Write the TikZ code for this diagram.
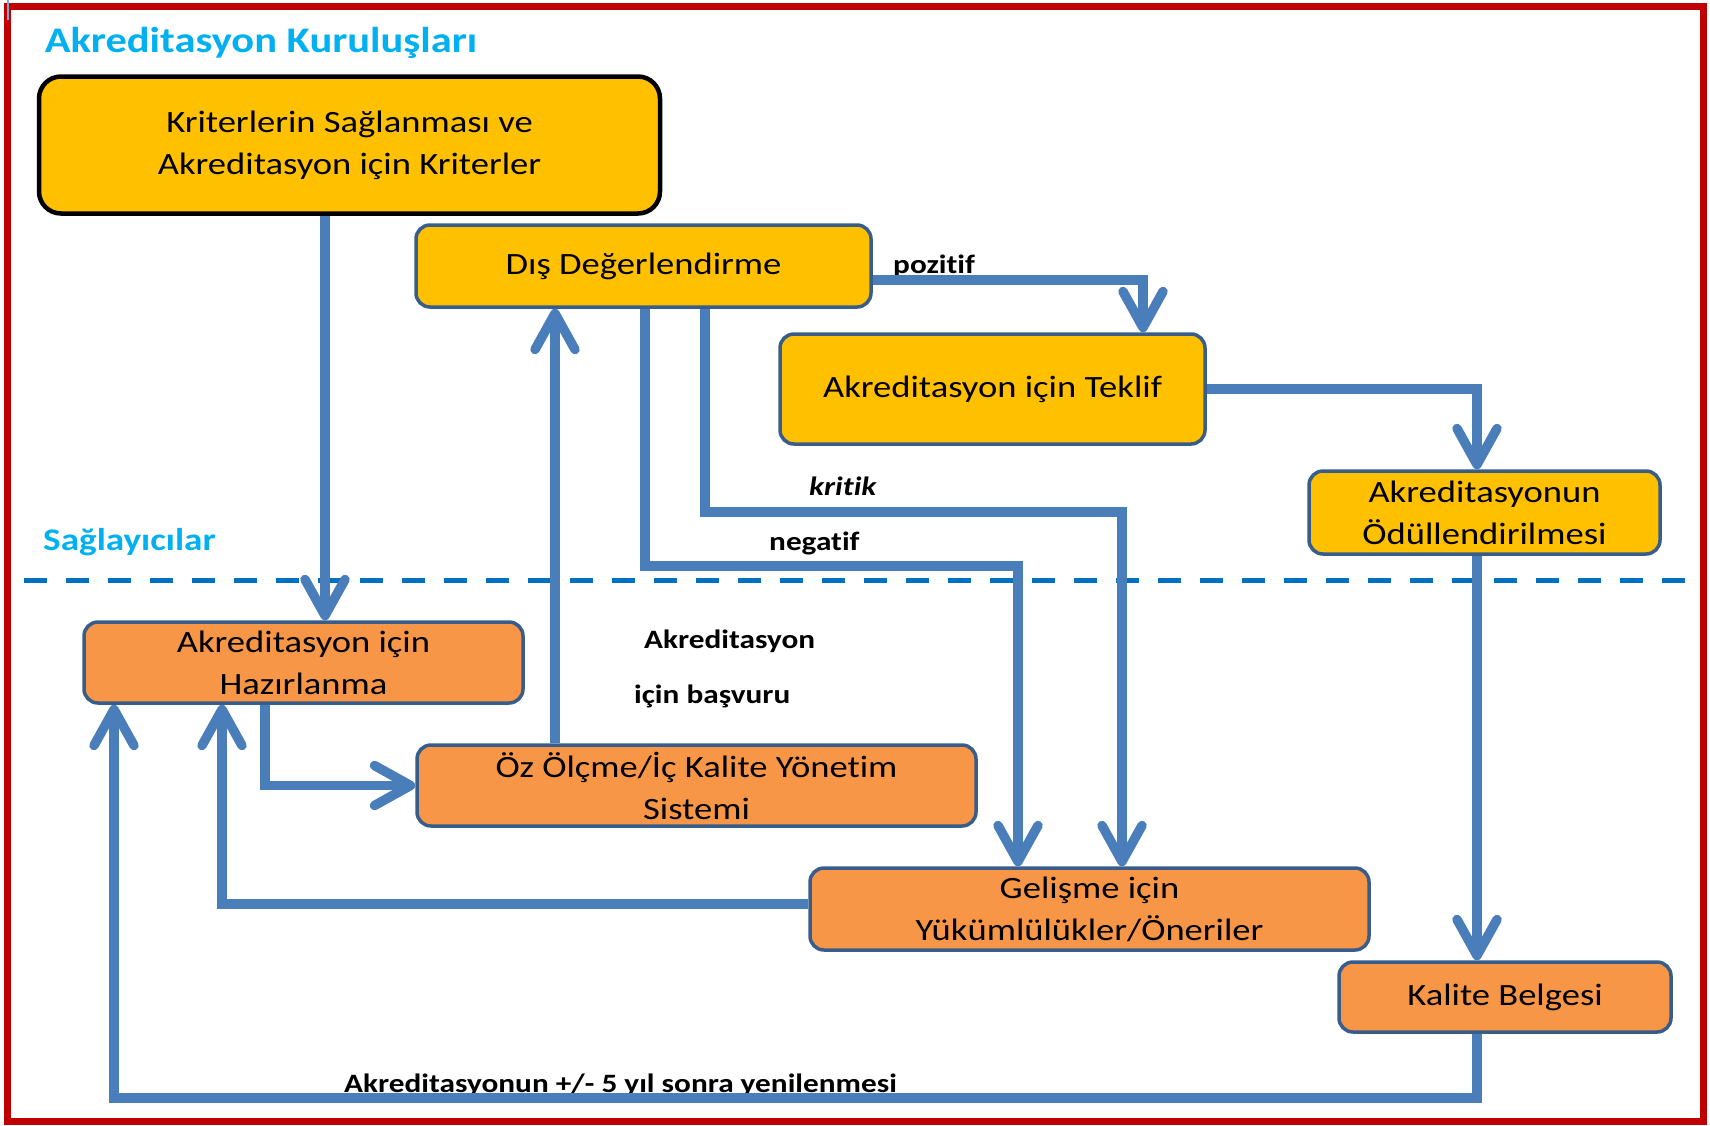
\documentclass[tikz,border=0pt]{standalone}
\usepackage{fontspec}
\setmainfont{Carlito}[FakeStretch=1.18, Ligatures={NoCommon,NoContextual}]
\usetikzlibrary{arrows.meta}
\definecolor{yel}{HTML}{FFC000}
\definecolor{org}{HTML}{F79646}
\definecolor{bord}{HTML}{385D8A}
\definecolor{linec}{HTML}{4A7EBB}
\definecolor{redb}{HTML}{C00000}
\definecolor{cyanT}{HTML}{00B0F0}
\definecolor{dashc}{HTML}{0070C0}
\tikzset{
  boxbase/.style={draw=bord, line width=3.5pt, rounded corners=14pt, align=center, inner sep=0pt,
    font=\fontsize{31}{42}\selectfont},
  ybox/.style={boxbase, fill=yel},
  obox/.style={boxbase, fill=org},
  conn/.style={draw=linec, line width=9.5pt, -{Straight Barb[length=36pt,width=40pt,round]}},
  lbl/.style={anchor=base west, inner sep=0pt, font=\fontsize{26.5}{30}\selectfont\bfseries},
  head/.style={anchor=base west, inner sep=0pt, text=cyanT},
}
\begin{document}
\begin{tikzpicture}[x=1pt,y=-1pt]
\useasboundingbox (0,0) rectangle (1710,1125);
% frame
\draw[redb, line width=7pt] (7.5,6.5) rectangle (1703,1121);
\draw[linec!70, line width=1.5pt] (8,0) -- (8,20);
% headings
\node[head, font=\fontsize{36}{40}\selectfont\bfseries] (t1) at (44.6,52) {Akreditasyon Kuruluşları};
\node[head, font=\fontsize{31.5}{36}\selectfont\bfseries] (t2) at (43,550) {Sağlayıcılar};
% dashed separator
\draw[dashc, line width=5pt, dash pattern=on 23pt off 19pt] (24,580) -- (1692,580);
% boxes
\node[ybox, draw=black, line width=4.5pt, rounded corners=22pt, minimum width=621pt, minimum height=137pt] (A) at (349.5,145) {Kriterlerin Sağlanması ve\\Akreditasyon için Kriterler};
\node[ybox, minimum width=455pt, minimum height=82pt] (B) at (643.5,266) {Dış Değerlendirme};
\node[ybox, minimum width=425pt, minimum height=110pt] (C) at (992.5,389) {Akreditasyon için Teklif};
\node[ybox, minimum width=351pt, minimum height=83pt] (D) at (1484.5,512.5) {Akreditasyonun\\Ödüllendirilmesi};
\node[obox, minimum width=439pt, minimum height=81pt] (E) at (303.5,662.5) {Akreditasyon için\\Hazırlanma};
\node[obox, minimum width=559pt, minimum height=81pt] (F) at (696.5,785.5) {Öz Ölçme/İç Kalite Yönetim\\Sistemi};
\node[obox, minimum width=559pt, minimum height=82pt] (G) at (1089.5,909) {Gelişme için\\Yükümlülükler/Öneriler};
\node[obox, minimum width=332pt, minimum height=70pt] (H) at (1505,997) {Kalite Belgesi};
% labels
\node[lbl] (lp) at (893,273) {pozitif};
\node[lbl, font=\fontsize{26.5}{30}\selectfont\bfseries\itshape] (lk) at (809,495) {kritik};
\node[lbl] (ln) at (769,550) {negatif};
\node[lbl] (la1) at (644,648) {Akreditasyon};
\node[lbl] (la2) at (634,703) {için başvuru};
\node[lbl] (lr) at (344,1092) {Akreditasyonun +/- 5 yıl sonra yenilenmesi};
% connectors
\draw[conn] (A.south -| 325,0) -- (E.north -| 325,0);
\draw[conn] (F.north -| 555,0) -- (B.south -| 555,0);
\draw[conn] (B.south -| 645,0) |- (1018,566) -- (G.north -| 1018,0);
\draw[conn] (B.south -| 705,0) |- (1122,512) -- (G.north -| 1122,0);
\draw[conn] (B.east |- 0,280) -| (C.north -| 1143,0);
\draw[conn] (C.east) -| (D.north -| 1477,0);
\draw[conn] (D.south -| 1477,0) -- (H.north -| 1477,0);
\draw[conn] (E.south -| 265,0) |- (F.west);
\draw[conn] (G.west |- 0,904) -| (E.south -| 222,0);
\draw[conn] (H.south -| 1477,0) |- (114,1098) -- (E.south -| 114,0);
\end{tikzpicture}
\end{document}
